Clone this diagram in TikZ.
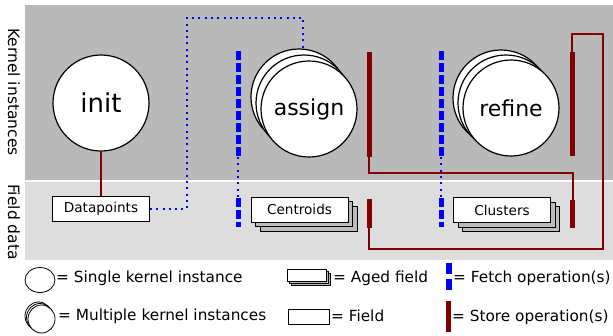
\documentclass[tikz,border=0pt]{standalone}
\usepackage{fontspec}
\setmainfont{DejaVu Sans}
\usetikzlibrary{shapes.geometric}
\definecolor{kernelbg}{HTML}{B9B9B9}
\definecolor{fieldbg}{HTML}{DDDDDD}
\definecolor{shadowgray}{HTML}{BBBBBB}
\definecolor{fetchblue}{HTML}{0000FF}
\definecolor{storered}{HTML}{800000}
\begin{document}
\begin{tikzpicture}[x=1pt,y=-1pt,
  kernel/.style={circle, draw, fill=white, line width=1.2pt, minimum size=96pt,
    inner sep=0pt, font=\fontsize{22}{24}\selectfont},
  fieldbox/.style={rectangle, draw, fill=white, line width=0.9pt, minimum width=97pt,
    minimum height=25pt, inner sep=0pt, font=\fontsize{13.6}{15}\selectfont},
  shadowbox/.style={fieldbox, fill=shadowgray},
  fetchbar/.style={draw=fetchblue, line width=5pt, dash pattern=on 9pt off 3pt},
  fetchlink/.style={draw=fetchblue, line width=2pt, dash pattern=on 2pt off 4.3pt},
  storebar/.style={rectangle, fill=storered, minimum width=5pt, inner sep=0pt},
  storelink/.style={draw=storered, line width=2pt},
  sidelabel/.style={rotate=-90, font=\fontsize{15.5}{17}\selectfont},
  legendtext/.style={anchor=base west, inner sep=0pt, font=\fontsize{15.3}{17}\selectfont},
  legendshape/.style={draw, fill=white, line width=0.8pt, inner sep=0pt},
]
\useasboundingbox (0,0) rectangle (613,335);

% the two bands
\fill[kernelbg] (25,5) rectangle (613,179.5);
\fill[fieldbg] (25,181.5) rectangle (613,260);
\node[sidelabel] (klabel) at (14,92) {Kernel instances};
\node[sidelabel] (flabel) at (14,222) {Field data};

% kernels
\node[kernel, font=\fontsize{26}{28}\selectfont] (init) at (101,103) {init};
\node[kernel] (assign1) at (299,97) {};
\node[kernel] (assign2) at (304,103) {};
\node[kernel] (assign) at (309,109) {assign};
\node[kernel] (refine1) at (501,98) {};
\node[kernel] (refine2) at (506,103) {};
\node[kernel] (refine) at (511,108) {refine};

% fields
\node[fieldbox] (datapoints) at (101,209) {Datapoints};
\node[shadowbox] (centroids2) at (308.5,218.5) {};
\node[shadowbox] (centroids1) at (304,214) {};
\node[fieldbox] (centroids) at (299.5,209.5) {Centroids};
\node[shadowbox] (clusters2) at (511,219) {};
\node[shadowbox] (clusters1) at (506.5,214.5) {};
\node[fieldbox] (clusters) at (502,210) {Clusters};

% fetch operations
\coordinate (f1top) at (238,51);
\coordinate (f1mid) at (238,157);
\coordinate (f1low) at (238,198);
\coordinate (f1bot) at (238,227);
\coordinate (f2top) at (441,51);
\coordinate (f2mid) at (441,157);
\coordinate (f2low) at (441,198);
\coordinate (f2bot) at (441,227);
\draw[fetchbar] (f1top) -- (f1mid);
\draw[fetchlink] (f1mid) -- (f1low);
\draw[fetchbar] (f1low) -- (f1bot);
\draw[fetchbar] (f2top) -- (f2mid);
\draw[fetchlink] (f2mid) -- (f2low);
\draw[fetchbar] (f2low) -- (f2bot);

% datapoints handed to assign
\coordinate (fetchcorner) at (187,18);
\draw[fetchlink] (datapoints.east) -| (fetchcorner) -| ([xshift=4pt]assign1.north);

% store operations
\node[storebar, minimum height=105pt] (s1k) at (369,104) {};
\node[storebar, minimum height=29pt] (s1f) at (369,213.5) {};
\node[storebar, minimum height=104pt] (s2k) at (572,104) {};
\node[storebar, minimum height=28pt] (s2f) at (572.5,214) {};
\draw[storelink] (init.south) -- (datapoints.north);
\draw[storelink] (s1k.south) -- ++(0,16) -| (s2f.north);
\coordinate (storeloop) at (603,249);
\draw[storelink] (s1f.south) |- (storeloop) -- ++(0,-215) -| (s2k.north);

% legend
\node[legendshape, ellipse, minimum width=30pt, minimum height=25pt] (lsingle) at (40,280) {};
\node[legendtext] (tsingle) at (56,282) {= Single kernel instance};
\node[legendshape, ellipse, minimum width=27pt, minimum height=28pt] (lmulti1) at (38.5,316) {};
\node[legendshape, ellipse, minimum width=27pt, minimum height=28pt] (lmulti2) at (40,317.5) {};
\node[legendshape, ellipse, minimum width=27pt, minimum height=28pt] (lmulti) at (41.5,319) {};
\node[legendtext] (tmulti) at (58,320) {= Multiple kernel instances};

\node[legendshape, fill=shadowgray, minimum width=39pt, minimum height=12pt] (laged2) at (310.5,279) {};
\node[legendshape, fill=shadowgray, minimum width=39pt, minimum height=12pt] (laged1) at (308.5,277) {};
\node[legendshape, minimum width=39pt, minimum height=12pt] (laged) at (306.5,275) {};
\node[legendtext] (taged) at (333,282) {= Aged field};
\node[legendshape, minimum width=41pt, minimum height=15pt] (lfield) at (308.5,316.5) {};
\node[legendtext] (tfield) at (331,321) {= Field};

\coordinate (lfetchtop) at (449,263);
\coordinate (lfetchbot) at (449,290);
\draw[draw=fetchblue, line width=6pt, dash pattern=on 11pt off 5pt] (lfetchtop) -- (lfetchbot);
\node[legendtext] (tfetch) at (453,282) {= Fetch operation(s)};
\node[storebar, minimum height=31pt] (lstore) at (448.5,316.5) {};
\node[legendtext] (tstore) at (452,321) {= Store operation(s)};
\end{tikzpicture}
\end{document}
